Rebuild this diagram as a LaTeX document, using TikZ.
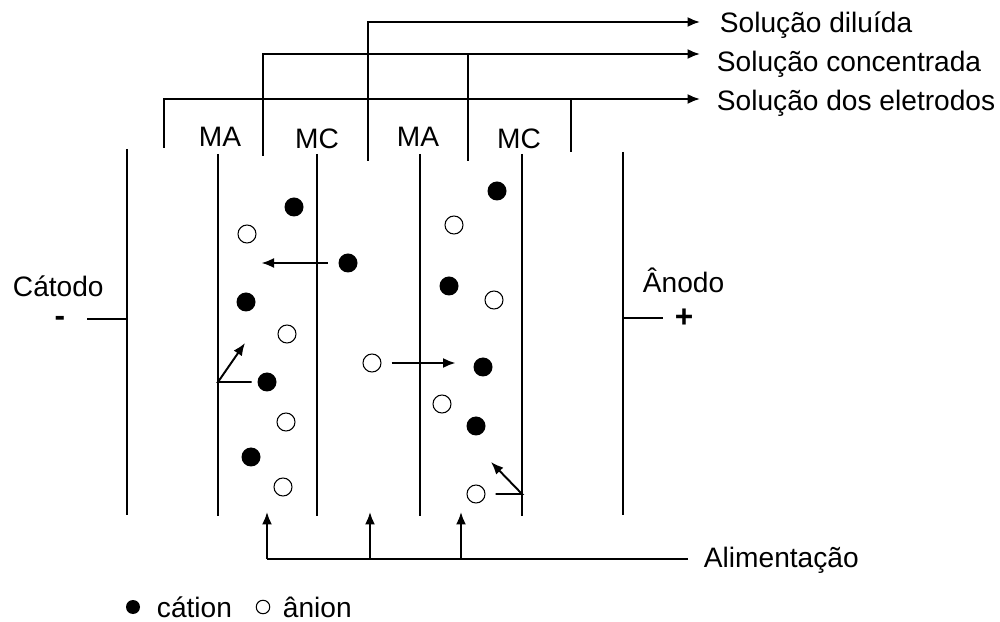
\documentclass[tikz,border=0pt]{standalone}
\usepackage{fontspec}
\setmainfont{Liberation Sans}
\usetikzlibrary{arrows.meta}
\tikzset{
  cation/.style={circle,fill=black,inner sep=0pt,minimum size=3.8mm},
  anion/.style={circle,draw,line width=0.6pt,fill=white,inner sep=0pt,minimum size=3.6mm},
  seta/.style={-{Latex[length=2.5mm,width=2mm]}},
  rotulo/.style={inner sep=0pt,font=\fontsize{16}{19}\selectfont},
}
\begin{document}
\begin{tikzpicture}[x=0.2mm,y=-0.2mm,line width=1.1pt]
    \useasboundingbox (0,0) rectangle (1000,622);
    % eletrodos e membranas
    \draw (127,149) -- (127,515);
    \draw (623,152) -- (623,515);
    \foreach \x in {218,317,420,522} \draw (\x,154) -- (\x,516);
    \node[rotulo,anchor=base] (ma1) at (220,147) {MA};
    \node[rotulo,anchor=base] (mc1) at (317,149) {MC};
    \node[rotulo,anchor=base] (ma2) at (418,147) {MA};
    \node[rotulo,anchor=base] (mc2) at (519,149) {MC};
    % saidas
    \coordinate (sdil) at (700,22);
    \coordinate (sconc) at (700,54);
    \coordinate (seletr) at (700,99);
    \draw[seta] (368,161) |- (sdil);
    \draw[seta] (263,156) |- (sconc);
    \draw (468,161) -- (468,54);
    \draw[seta] (164,148) |- (seletr);
    \draw (571,152) -- (571,99);
    \node[rotulo,anchor=base west] (dil) at (719,33) {Solução diluída};
    \node[rotulo,anchor=base west] (conc) at (716,72) {Solução concentrada};
    \node[rotulo,anchor=base west] (eletr) at (716,111) {Solução dos eletrodos};
    % catodo e anodo
    \node[rotulo,anchor=base west] (catodo) at (12,297) {Cátodo};
    \node[rotulo,anchor=base,text height=0.4em,text depth=0pt,
          font=\fontsize{18}{19}\bfseries] (menos) at (60,327) {-};
    \draw (87,319) -- (127,319);
    \node[rotulo,anchor=base west] (anodo) at (642,293) {Ânodo};
    \node[rotulo,font=\fontsize{18}{19}\bfseries] (mais) at (684,318) {+};
    \draw (623,318) -- (663,318);
    % ions
    \foreach \p [count=\i] in {(294,207),(348,263),(246,302),(267,382),(251,457),
        (497,191),(449,286),(483,367),(476,426)}
        \node[cation] (c\i) at \p {};
    \foreach \p [count=\i] in {(247,234),(287,334),(286,422),(283,487),(372,363),
        (454,225),(494,300),(442,404),(476,494)}
        \node[anion] (a\i) at \p {};
    \draw[seta] ([xshift=-2mm]c2.west) -- ++(-66,0);
    \draw[seta] ([xshift=2mm]a5.east) -- ++(64,0);
    \draw[seta] ([xshift=-1mm]c4.west) -- (218,382) -- (245,343);
    \draw[seta] ([xshift=2mm]a9.east) -- (522,494) -- (491,462);
    % alimentacao
    \coordinate (palim) at (688,559);
    \node[rotulo,anchor=base west] (alim) at (703,567) {Alimentação};
    \draw (palim) -- (267,559);
    \foreach \x in {267,370,461} \draw[seta] (\x,559) -- (\x,512);
    % legenda
    \node[cation,minimum size=2.8mm] (lcat) at (133,607) {};
    \node[rotulo,anchor=base west] (tcat) at (156,617) {cátion};
    \node[anion,minimum size=2.7mm] (lan) at (263,607) {};
    \node[rotulo,anchor=base west] (tan) at (282,617) {ânion};
\end{tikzpicture}
\end{document}
